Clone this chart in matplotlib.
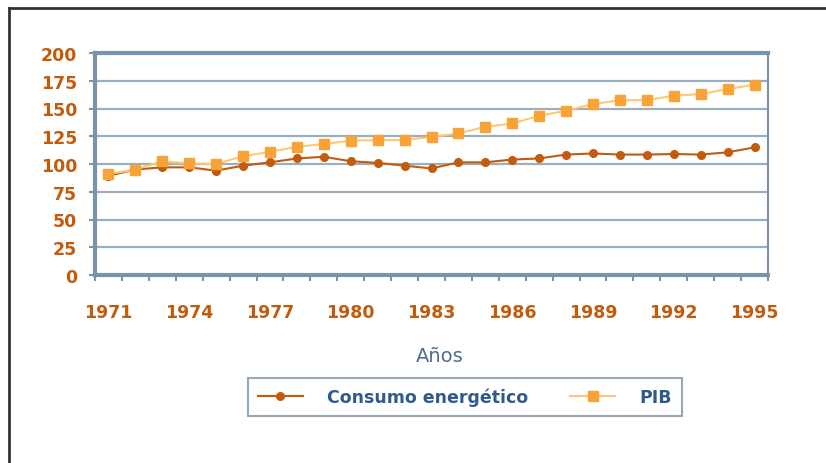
import matplotlib.pyplot as plt
from matplotlib.lines import Line2D

# datos (indice 1971-1995)
years = list(range(1971, 1996))
consumo = [89.5, 95, 97, 97, 94, 98.5, 101.5, 105, 106.5, 102.5, 101, 98.5, 96,
           101.5, 101.5, 104, 105, 108.5, 109.5, 108.5, 108.5, 109, 108.5, 110.5, 115]
pib = [91, 95, 102.5, 100.5, 100, 107, 111, 115.5, 118, 121, 121.5, 121.5, 124.5,
       127.5, 133.5, 136.5, 143.5, 148, 154, 157.5, 157.5, 161.5, 163, 167.5, 171.5]
year_labels = [str(y) for y in years[::3]]
yticks = [0, 25, 50, 75, 100, 125, 150, 175, 200]

orange_dark = '#C25B0C'
orange_light = '#F8A338'
line_light = '#FCC875'
axis_col = '#7A93A8'

fig = plt.figure(figsize=(8.26, 4.64), dpi=100)
ax = fig.add_axes([95 / 826, 1 - 276 / 464, (768 - 95) / 826, (276 - 54) / 464])

x = list(range(len(years)))
ax.plot(x, consumo, color=orange_dark, lw=1.5, marker='o', ms=5.5, label='Consumo energético')
ax.plot(x, pib, color=line_light, lw=1.5, marker='s', ms=7, mfc=orange_light, mec=orange_light,
        label='PIB')

ax.set_xlim(-0.5, len(years) - 0.5)
ax.set_ylim(0, 200)
ax.set_yticks(yticks)
ax.yaxis.grid(True, color=axis_col, lw=1.6, alpha=0.75)
ax.set_axisbelow(True)

ax.set_xticks(x[::3])
ax.set_xticklabels(year_labels)
ax.set_xticks([i - 0.5 for i in range(len(years) + 1)], minor=True)
ax.tick_params(axis='x', which='major', length=0, pad=20)
ax.tick_params(axis='x', which='minor', length=4, width=1.5, color=axis_col)
ax.tick_params(axis='y', length=4, width=1.5, color=axis_col, pad=9)
for lab in ax.get_xticklabels() + ax.get_yticklabels():
    lab.set_color(orange_dark)
    lab.set_fontweight('bold')
    lab.set_fontsize(12.5)

for side, w in [('left', 3), ('top', 3), ('bottom', 3), ('right', 1.5)]:
    ax.spines[side].set_color(axis_col)
    ax.spines[side].set_linewidth(w)

fig.text(440 / 826, 1 - 357 / 464, 'Años', ha='center', va='center', fontsize=14, color='#4F6D8C')

leg = fig.legend(loc='center', bbox_to_anchor=(465 / 826, 1 - 398 / 464), ncol=2,
                 fancybox=False, edgecolor=axis_col, fontsize=12.5, handlelength=2.6,
                 handletextpad=1.4, columnspacing=2.4, borderpad=0.55)
leg.get_frame().set_linewidth(1.5)
for t in leg.get_texts():
    t.set_color('#2F5A8C')
    t.set_fontweight('bold')

# borde exterior (izquierda y arriba)
fig.add_artist(Line2D([9 / 826, 9 / 826], [0, 1 - 9 / 464], color='#333333', lw=2))
fig.add_artist(Line2D([9 / 826, 1], [1 - 9 / 464, 1 - 9 / 464], color='#333333', lw=2))

fig.savefig('out.png', dpi=100)
